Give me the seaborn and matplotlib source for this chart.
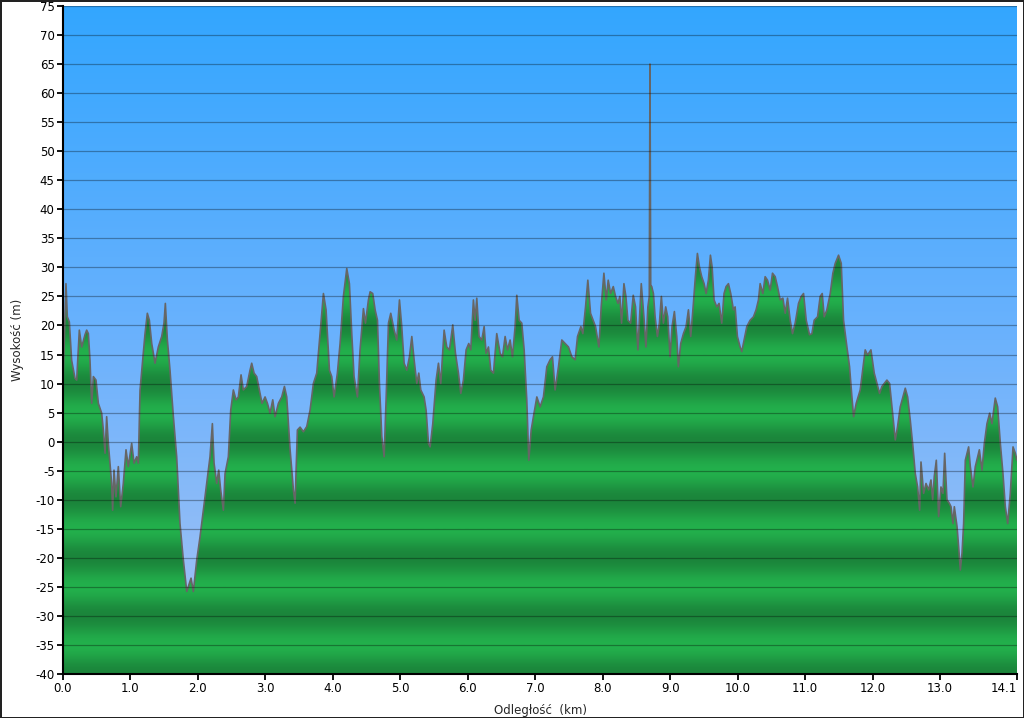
import numpy as np
import pandas as pd
import matplotlib
matplotlib.use("Agg")
import matplotlib.pyplot as plt
from matplotlib.colors import LinearSegmentedColormap
import seaborn as sns

# elevation profile (distance in km, height in m)
dist_km = [
    0.000, 0.044, 0.064, 0.094, 0.128, 0.178, 0.203, 0.242, 0.277, 0.326,
    0.351, 0.376, 0.400, 0.425, 0.450, 0.489, 0.524, 0.573, 0.598, 0.623,
    0.647, 0.672, 0.721, 0.736, 0.756, 0.785, 0.820, 0.855, 0.894, 0.934,
    0.968, 1.018, 1.053, 1.092, 1.117, 1.142, 1.191, 1.216, 1.250, 1.280,
    1.315, 1.364, 1.413, 1.463, 1.497, 1.517, 1.547, 1.586, 1.636, 1.685,
    1.734, 1.784, 1.834, 1.873, 1.898, 1.932, 1.982, 2.031, 2.080, 2.130,
    2.179, 2.214, 2.239, 2.278, 2.308, 2.337, 2.377, 2.402, 2.451, 2.486,
    2.525, 2.565, 2.599, 2.639, 2.673, 2.723, 2.772, 2.797, 2.832, 2.871,
    2.911, 2.950, 2.995, 3.030, 3.069, 3.109, 3.143, 3.193, 3.242, 3.282,
    3.316, 3.366, 3.415, 3.440, 3.474, 3.514, 3.563, 3.613, 3.662, 3.711,
    3.761, 3.810, 3.860, 3.899, 3.949, 3.983, 4.018, 4.067, 4.107, 4.156,
    4.206, 4.245, 4.280, 4.314, 4.364, 4.403, 4.453, 4.483, 4.527, 4.552,
    4.591, 4.626, 4.661, 4.690, 4.725, 4.760, 4.789, 4.824, 4.858, 4.908,
    4.947, 4.987, 5.021, 5.056, 5.096, 5.135, 5.170, 5.204, 5.244, 5.273,
    5.303, 5.352, 5.382, 5.417, 5.441, 5.481, 5.530, 5.565, 5.599, 5.649,
    5.688, 5.728, 5.777, 5.817, 5.861, 5.896, 5.935, 5.975, 6.014, 6.044,
    6.083, 6.108, 6.133, 6.167, 6.207, 6.242, 6.271, 6.306, 6.340, 6.380,
    6.429, 6.479, 6.514, 6.553, 6.588, 6.627, 6.662, 6.701, 6.726, 6.761,
    6.800, 6.835, 6.874, 6.904, 6.939, 6.973, 7.023, 7.072, 7.121, 7.171,
    7.220, 7.255, 7.294, 7.344, 7.393, 7.443, 7.492, 7.542, 7.591, 7.626,
    7.676, 7.705, 7.745, 7.779, 7.819, 7.858, 7.893, 7.943, 7.977, 8.017,
    8.052, 8.081, 8.116, 8.156, 8.190, 8.225, 8.254, 8.279, 8.314, 8.343,
    8.373, 8.413, 8.452, 8.486, 8.521, 8.571, 8.610, 8.640, 8.669, 8.690,
    8.700, 8.711, 8.726, 8.751, 8.776, 8.810, 8.840, 8.869, 8.899, 8.933,
    8.963, 8.998, 9.027, 9.062, 9.097, 9.121, 9.156, 9.196, 9.235, 9.270,
    9.304, 9.344, 9.373, 9.403, 9.433, 9.467, 9.502, 9.532, 9.566, 9.596,
    9.621, 9.650, 9.690, 9.724, 9.764, 9.798, 9.828, 9.863, 9.897, 9.937,
    9.962, 9.996, 10.036, 10.061, 10.095, 10.135, 10.184, 10.234, 10.273, 10.308,
    10.333, 10.373, 10.407, 10.442, 10.482, 10.516, 10.556, 10.590, 10.630, 10.670,
    10.704, 10.739, 10.778, 10.813, 10.852, 10.902, 10.942, 10.976, 11.016, 11.065,
    11.100, 11.134, 11.184, 11.223, 11.253, 11.283, 11.322, 11.372, 11.411, 11.446,
    11.495, 11.535, 11.569, 11.619, 11.658, 11.693, 11.718, 11.757, 11.816, 11.866,
    11.890, 11.925, 11.975, 12.024, 12.064, 12.103, 12.138, 12.172, 12.212, 12.252,
    12.286, 12.336, 12.370, 12.410, 12.449, 12.484, 12.519, 12.558, 12.598, 12.632,
    12.667, 12.697, 12.717, 12.756, 12.791, 12.830, 12.865, 12.890, 12.914, 12.944,
    12.979, 13.013, 13.043, 13.068, 13.102, 13.137, 13.162, 13.191, 13.211, 13.251,
    13.275, 13.300, 13.325, 13.349, 13.374, 13.399, 13.423, 13.448, 13.488, 13.522,
    13.557, 13.582, 13.621, 13.656, 13.695, 13.735, 13.769, 13.818, 13.853, 13.893,
    13.932, 13.967, 14.002, 14.041, 14.081, 14.115, 14.140,
]
elev_m = [
    10.0, 27.2, 21.5, 20.6, 14.0, 10.9, 10.6, 19.2, 16.3, 18.4,
    19.2, 18.6, 14.0, 6.6, 11.2, 10.6, 6.6, 4.9, 2.0, -2.0,
    4.3, -0.3, -7.2, -11.8, -4.9, -9.5, -4.3, -11.2, -7.2, -1.4,
    -4.3, -0.3, -3.7, -2.6, -3.7, 8.9, 15.2, 18.6, 22.1, 20.9,
    16.9, 13.5, 16.3, 18.1, 20.4, 23.8, 17.5, 12.3, 4.3, -2.6,
    -14.1, -20.4, -25.8, -24.4, -23.5, -25.8, -20.4, -16.4, -11.8, -7.2,
    -2.6, 3.1, -3.7, -7.2, -4.9, -8.3, -11.8, -5.5, -2.6, 5.4,
    8.9, 7.2, 7.7, 11.5, 8.9, 9.5, 12.3, 13.5, 11.8, 11.2,
    8.9, 6.6, 7.7, 6.6, 4.9, 7.2, 4.3, 6.6, 7.7, 9.5,
    7.7, -1.4, -8.3, -10.6, 2.0, 2.5, 1.7, 2.6, 5.4, 10.0,
    11.8, 18.6, 25.5, 22.7, 12.3, 11.2, 7.7, 11.8, 16.9, 25.0,
    29.8, 27.2, 18.6, 11.2, 7.7, 15.8, 22.9, 20.4, 24.4, 25.8,
    25.5, 22.7, 20.9, 10.0, 0.9, -2.6, 7.2, 20.4, 22.1, 19.2,
    17.5, 24.4, 19.8, 13.5, 12.3, 14.6, 18.1, 14.1, 10.0, 11.8,
    8.9, 7.7, 5.4, -0.3, -0.9, 3.1, 10.6, 13.5, 10.0, 19.2,
    16.3, 15.8, 20.1, 15.2, 11.8, 8.3, 10.6, 15.8, 16.9, 15.8,
    24.4, 20.9, 24.7, 18.1, 17.5, 19.8, 15.2, 16.3, 12.3, 11.8,
    18.6, 15.2, 14.6, 18.1, 15.8, 17.5, 14.6, 19.8, 25.2, 20.9,
    20.4, 15.8, 7.2, -3.2, 2.0, 4.3, 7.7, 6.0, 7.7, 12.9,
    14.1, 14.6, 8.9, 12.9, 17.5, 16.9, 16.3, 14.6, 14.1, 18.1,
    19.8, 18.6, 23.2, 27.8, 22.1, 20.9, 19.8, 16.3, 23.2, 29.0,
    24.4, 27.8, 25.5, 26.7, 25.0, 23.8, 25.0, 20.4, 27.2, 25.0,
    20.9, 20.4, 25.2, 23.2, 15.8, 27.2, 21.5, 16.3, 23.2, 25.0,
    65.0, 27.0, 26.7, 25.5, 21.5, 18.1, 20.4, 25.0, 20.4, 23.2,
    21.5, 14.6, 19.8, 22.4, 18.1, 12.9, 16.9, 18.6, 19.8, 22.7,
    18.1, 23.8, 28.4, 32.4, 30.1, 28.4, 27.2, 25.5, 27.8, 32.1,
    30.1, 24.4, 23.2, 23.8, 20.4, 25.5, 26.7, 27.2, 25.5, 22.7,
    23.2, 18.1, 16.3, 15.5, 17.5, 19.8, 20.9, 21.5, 22.7, 24.4,
    27.2, 25.5, 28.4, 27.8, 26.1, 29.0, 28.4, 26.7, 24.4, 24.7,
    22.1, 24.7, 20.9, 18.6, 20.4, 23.8, 25.0, 25.5, 20.9, 18.4,
    18.6, 20.9, 21.5, 25.0, 25.5, 21.5, 22.7, 25.5, 29.0, 30.7,
    32.1, 30.7, 20.9, 16.3, 12.9, 7.7, 4.3, 6.6, 8.9, 13.5,
    15.8, 14.9, 15.8, 11.8, 10.0, 8.3, 9.5, 10.0, 10.6, 10.0,
    6.0, 0.3, 2.6, 6.0, 7.7, 9.2, 7.7, 3.7, -0.9, -5.5,
    -7.8, -11.8, -3.5, -8.9, -7.2, -8.3, -6.6, -10.0, -6.0, -3.2,
    -12.9, -7.8, -8.9, -2.0, -10.0, -10.6, -11.2, -14.1, -11.2, -14.6,
    -18.1, -22.1, -19.2, -14.1, -3.2, -2.0, -0.9, -4.3, -7.8, -4.3,
    -2.6, -1.4, -4.9, -0.3, 3.1, 4.9, 3.1, 7.5, 6.0, -0.3,
    -5.5, -11.2, -14.1, -8.9, -0.9, -2.0, -3.2,
]

Y_MIN, Y_MAX = -40, 75
X_MAX = 14.14
y_ticks = list(range(-40, 80, 5))
x_ticks = list(range(0, 14)) + [X_MAX]
x_tick_labels = [f"{t:.1f}" for t in x_ticks]

sns.set_style("white")
plt.rcParams["font.family"] = ["DejaVu Sans"]
plt.rcParams["axes.unicode_minus"] = False

df = pd.DataFrame({"dist": dist_km, "elev": elev_m})

fig = plt.figure(figsize=(10.24, 7.18), dpi=100)
fig.patch.set_edgecolor("#222222")
fig.patch.set_linewidth(2)
ax = fig.add_axes([63 / 1024, 44 / 718, 954 / 1024, 668 / 718])

# sky: vertical blue gradient
sky = LinearSegmentedColormap.from_list("sky", ["#a9c3f3", "#6bb2fd", "#33a6ff"])
grad = np.linspace(0, 1, 256).reshape(-1, 1)
ax.imshow(grad, cmap=sky, origin="lower", aspect="auto",
          extent=[0, X_MAX, Y_MIN, Y_MAX], zorder=0)

# terrain: green bands, clipped to the profile
yy = np.linspace(Y_MIN, Y_MAX, 1500)
band = (np.cos(2 * np.pi * yy / 10) + 1) / 2
grn = LinearSegmentedColormap.from_list("grn", ["#23b04c", "#1b853b"])
im = ax.imshow(band.reshape(-1, 1), cmap=grn, origin="lower", aspect="auto",
               extent=[0, X_MAX, Y_MIN, Y_MAX], zorder=1, interpolation="bilinear")
poly = ax.fill_between(df["dist"], df["elev"], Y_MIN, facecolor="none", edgecolor="none")
im.set_clip_path(poly.get_paths()[0], transform=ax.transData)

sns.lineplot(data=df, x="dist", y="elev", color="#666666", lw=1.2, ax=ax, zorder=3)

for y in y_ticks:
    ax.axhline(y, color="black", alpha=0.32, lw=0.9, zorder=4)

ax.set_xlim(0, X_MAX)
ax.set_ylim(Y_MIN, Y_MAX)
ax.set_yticks(y_ticks)
ax.set_xticks(x_ticks)
ax.set_xticklabels(x_tick_labels)
ax.get_xticklabels()[-1].set_horizontalalignment("right")
ax.grid(False)

for s in ["top", "right"]:
    ax.spines[s].set_visible(False)
for s in ["left", "bottom"]:
    ax.spines[s].set_color("black")
    ax.spines[s].set_linewidth(1.5)
    ax.spines[s].set_zorder(5)

ax.tick_params(axis="both", direction="out", length=4, width=1.3, colors="black",
               labelsize=8.5, pad=2, left=True, bottom=True)
ax.set_ylabel("Wysokość (m)", fontsize=8.5, labelpad=8)
ax.set_xlabel("Odległość  (km)", fontsize=8.5, labelpad=6)

fig.savefig("out.png", dpi=100)
